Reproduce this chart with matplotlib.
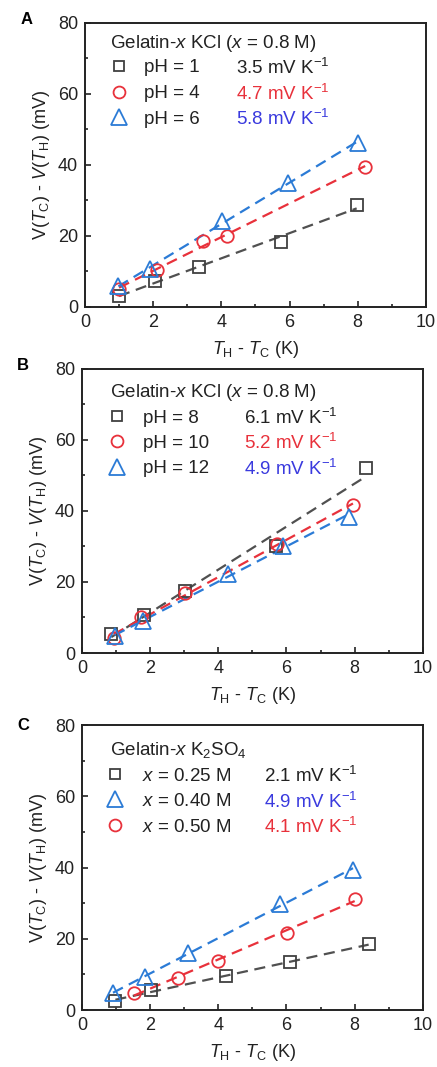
import numpy as np
import matplotlib
matplotlib.use("Agg")
import matplotlib.pyplot as plt
from matplotlib.ticker import MultipleLocator

plt.rcParams["font.family"] = ["Liberation Sans", "DejaVu Sans"]
plt.rcParams["mathtext.fontset"] = "custom"
plt.rcParams["mathtext.rm"] = "Liberation Sans"
plt.rcParams["mathtext.it"] = "Liberation Sans:italic"
plt.rcParams["mathtext.bf"] = "Liberation Sans:bold"

GREY = "#404040"
GREY_LINE = "#505050"
RED = "#e8313b"
BLUE = "#2b7bd6"
BLUE_TEXT = "#3a3ade"
INK = "#222222"

# ---- Panel A : Gelatin-x KCl (x = 0.8 M), acidic pH ----
a_ph1_x = [1.0, 2.04, 3.35, 5.75, 7.97]
a_ph1_y = [3.2, 7.2, 11.4, 18.3, 28.8]
a_ph4_x = [1.0, 2.1, 3.47, 4.18, 8.22]
a_ph4_y = [5.0, 10.5, 18.5, 20.0, 39.5]
a_ph6_x = [0.98, 1.9, 4.01, 5.97, 8.0]
a_ph6_y = [5.8, 10.7, 24.1, 35.0, 46.3]
a_labels = ["pH = 1", "pH = 4", "pH = 6"]
a_slopes = ["3.5", "4.7", "5.8"]

# ---- Panel B : Gelatin-x KCl (x = 0.8 M), basic pH ----
b_ph8_x = [0.86, 1.81, 3.01, 5.7, 8.33]
b_ph8_y = [5.3, 10.8, 17.5, 30.0, 52.1]
b_ph10_x = [0.93, 1.73, 3.01, 5.72, 7.95]
b_ph10_y = [4.2, 10.1, 16.8, 30.8, 41.6]
b_ph12_x = [0.96, 1.79, 4.28, 5.91, 7.82]
b_ph12_y = [4.7, 8.9, 22.2, 30.2, 38.3]
b_labels = ["pH = 8", "pH = 10", "pH = 12"]
b_slopes = ["6.1", "5.2", "4.9"]

# ---- Panel C : Gelatin-x K2SO4 ----
c_025_x = [0.98, 2.03, 4.23, 6.09, 8.41]
c_025_y = [2.5, 5.6, 9.6, 13.4, 18.4]
c_040_x = [0.91, 1.86, 3.11, 5.8, 7.95]
c_040_y = [4.7, 9.4, 15.9, 29.9, 39.3]
c_050_x = [1.52, 2.82, 3.99, 6.01, 8.0]
c_050_y = [4.7, 9.1, 13.8, 21.7, 31.3]
c_labels = [r"$x$ = 0.25 M", r"$x$ = 0.40 M", r"$x$ = 0.50 M"]
c_slopes = ["2.1", "4.9", "4.1"]

STYLE = {
    "s": dict(marker="s", markersize=8.3, color=GREY, line=GREY_LINE, text=INK),
    "o": dict(marker="o", markersize=9, color=RED, line=RED, text=RED),
    "^": dict(marker="^", markersize=11.5, color=BLUE, line=BLUE, text=BLUE_TEXT),
}

FS = 13.5     # legend text
FS_TICK = 13
FS_LAB = 13


def draw_series(ax, x, y, key):
    st = STYLE[key]
    x = np.asarray(x)
    y = np.asarray(y)
    # dashed linear fit over the measured range
    k, b = np.polyfit(x, y, 1)
    xx = np.array([x.min(), x.max()])
    ax.plot(xx, k * xx + b, color=st["line"], lw=1.6, dashes=(5, 3), zorder=2)
    ax.plot(x, y, linestyle="none", marker=st["marker"], markersize=st["markersize"],
            markerfacecolor="none", markeredgecolor=st["color"], markeredgewidth=1.3, zorder=3)


def style_axes(ax):
    ax.set_xlim(0, 10)
    ax.set_ylim(0, 80)
    ax.xaxis.set_major_locator(MultipleLocator(2))
    ax.xaxis.set_minor_locator(MultipleLocator(1))
    ax.yaxis.set_major_locator(MultipleLocator(20))
    ax.yaxis.set_minor_locator(MultipleLocator(10))
    ax.tick_params(which="both", direction="in", top=False, right=False, width=1.2,
                   labelsize=FS_TICK, colors=INK)
    ax.tick_params(which="major", length=4, pad=5)
    ax.tick_params(which="minor", length=2.5)
    for s in ax.spines.values():
        s.set_linewidth(1.4)
        s.set_color(INK)
    ax.set_xlabel(r"$T_\mathrm{H}$ - $T_\mathrm{C}$ (K)", fontsize=FS_LAB, labelpad=6, color=INK)
    ax.set_ylabel(r"V($T_\mathrm{C}$) - $V$($T_\mathrm{H}$) (mV)", fontsize=FS_LAB, labelpad=4,
                  color=INK)


def add_key(ax, title, labels, slopes, keys, title_pos, rows_y, x_mark, x_lab, x_slope):
    tr = ax.transAxes
    ax.text(title_pos[0], title_pos[1], title, transform=tr, fontsize=FS,
            ha="left", va="center_baseline", color=INK)
    for lab, slope, key, ry in zip(labels, slopes, keys, rows_y):
        st = STYLE[key]
        ax.plot([x_mark], [ry], transform=tr, linestyle="none", marker=st["marker"],
                markersize=st["markersize"] * 0.95, markerfacecolor="none",
                markeredgecolor=st["color"], markeredgewidth=1.3, clip_on=False)
        ax.text(x_lab, ry, lab, transform=tr, fontsize=FS, ha="left",
                va="center_baseline", color=INK)
        ax.text(x_slope, ry, slope + r" mV K$^{-1}$", transform=tr, fontsize=FS,
                ha="left", va="center_baseline", color=st["text"])


fig = plt.figure(figsize=(4.37, 10.67), dpi=100)
axA = fig.add_axes([0.1945, 0.7123, 0.780, 0.2662])
axB = fig.add_axes([0.1876, 0.3880, 0.780, 0.2662])
axC = fig.add_axes([0.1876, 0.0534, 0.780, 0.2670])

# A
draw_series(axA, a_ph1_x, a_ph1_y, "s")
draw_series(axA, a_ph4_x, a_ph4_y, "o")
draw_series(axA, a_ph6_x, a_ph6_y, "^")
style_axes(axA)
add_key(axA, r"Gelatin-$x$ KCl ($x$ = 0.8 M)", a_labels, a_slopes, ["s", "o", "^"],
        (0.073, 0.937), [0.850, 0.758, 0.668], 0.10, 0.174, 0.442)

# B
draw_series(axB, b_ph8_x, b_ph8_y, "s")
draw_series(axB, b_ph10_x, b_ph10_y, "o")
draw_series(axB, b_ph12_x, b_ph12_y, "^")
style_axes(axB)
add_key(axB, r"Gelatin-$x$ KCl ($x$ = 0.8 M)", b_labels, b_slopes, ["s", "o", "^"],
        (0.082, 0.929), [0.834, 0.746, 0.656], 0.102, 0.18, 0.476)

# C
draw_series(axC, c_025_x, c_025_y, "s")
draw_series(axC, c_040_x, c_040_y, "^")
draw_series(axC, c_050_x, c_050_y, "o")
style_axes(axC)
add_key(axC, r"Gelatin-$x$ K$_2$SO$_4$", c_labels, c_slopes, ["s", "^", "o"],
        (0.082, 0.921), [0.828, 0.739, 0.649], 0.097, 0.175, 0.534)

# panel letters
fig.text(27 / 437, 1 - 20 / 1067, "A", fontsize=12, fontweight="bold", ha="center", va="center")
fig.text(23 / 437, 1 - 365 / 1067, "B", fontsize=12, fontweight="bold", ha="center", va="center")
fig.text(23 / 437, 1 - 725 / 1067, "C", fontsize=12, fontweight="bold", ha="center", va="center")

fig.savefig("out.png", dpi=100)
